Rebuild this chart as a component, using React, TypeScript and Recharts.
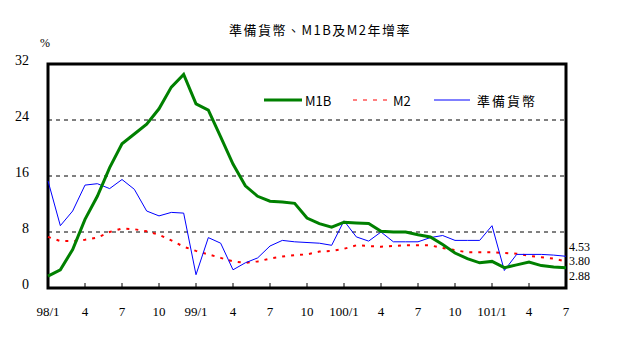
import {
  LineChart,
  Line,
  XAxis,
  YAxis,
  ReferenceLine,
  ReferenceArea,
} from "recharts";

const months = [
  "98/1", "98/2", "98/3", "98/4", "98/5", "98/6", "98/7", "98/8", "98/9", "98/10", "98/11", "98/12",
  "99/1", "99/2", "99/3", "99/4", "99/5", "99/6", "99/7", "99/8", "99/9", "99/10", "99/11", "99/12",
  "100/1", "100/2", "100/3", "100/4", "100/5", "100/6", "100/7", "100/8", "100/9", "100/10", "100/11", "100/12",
  "101/1", "101/2", "101/3", "101/4", "101/5", "101/6", "101/7",
];

const m1b = [
  1.7, 2.6, 5.5, 9.8, 13.1, 17.2, 20.6, 22.0, 23.4, 25.6, 28.7, 30.5,
  26.3, 25.4, 21.6, 17.7, 14.6, 13.1, 12.4, 12.3, 12.1, 10.0, 9.2, 8.7,
  9.4, 9.3, 9.2, 8.1, 8.0, 8.0, 7.6, 7.3, 6.2, 5.0, 4.2, 3.6,
  3.8, 2.9, 3.3, 3.7, 3.2, 3.0, 2.88,
];

const m2 = [
  7.3, 6.7, 6.7, 6.9, 7.2, 8.0, 8.5, 8.4, 8.1, 7.6, 6.8, 5.9,
  5.3, 4.8, 4.3, 3.8, 3.6, 3.8, 4.2, 4.5, 4.7, 4.8, 5.2, 5.3,
  5.6, 6.1, 6.0, 5.9, 6.0, 6.1, 6.1, 6.1, 5.7, 5.4, 5.1, 5.1,
  5.1, 5.0, 4.9, 4.6, 4.4, 4.2, 3.8,
];

const reserve = [
  15.3, 8.9, 11.0, 14.7, 14.9, 14.2, 15.5, 14.1, 11.0, 10.3, 10.8, 10.7,
  1.9, 7.2, 6.4, 2.6, 3.6, 4.3, 6.0, 6.8, 6.6, 6.5, 6.4, 6.1,
  9.6, 7.3, 6.7, 8.0, 6.6, 6.6, 6.6, 7.2, 7.5, 6.8, 6.8, 6.8,
  8.9, 2.5, 4.8, 4.8, 4.8, 4.7, 4.53,
];

const yTicks = [0, 8, 16, 24, 32];
const gridLines = [8, 16, 24];
const endLabels = { reserve: "4.53", m2: "3.80", m1b: "2.88" };

const data = months.map((m, i) => ({
  month: m,
  m1b: m1b[i],
  m2: m2[i],
  reserve: reserve[i],
}));

const NUM_FONT = "'Liberation Serif', serif";
const CJK_FONT = "'Noto Sans CJK TC', sans-serif";
const last = months.length - 1;

function monthLabel(m: string) {
  const [y, mo] = m.split("/");
  return mo === "1" ? `${y}/1` : mo;
}

function XTick(props: any) {
  const { x, y, payload } = props;
  return (
    <g>
      <line x1={x} x2={x} y1={y - 5} y2={y} stroke="#000" strokeWidth={1} />
      <text x={x} y={y + 28} textAnchor="middle" fontSize={13} fontFamily={NUM_FONT} fill="#000">
        {monthLabel(payload.value)}
      </text>
    </g>
  );
}

function YTick(props: any) {
  const { x, y, payload } = props;
  return (
    <text x={x} y={y - 4} textAnchor="end" dominantBaseline="central" fontSize={14} fontFamily={NUM_FONT} fill="#000">
      {payload.value}
    </text>
  );
}

// value labels beside the last month, nudged apart so they don't collide
function endLabel(text: string, dy: number) {
  return (p: any) => {
    if (p.index !== last) return null;
    return (
      <text x={p.x + 3} y={p.y + dy} dominantBaseline="central" fontSize={12} fontFamily={NUM_FONT} fill="#000">
        {text}
      </text>
    );
  };
}

function LegendBox() {
  return (
    <svg width={300} height={16} style={{ display: "block" }}>
      <line x1={4} x2={42} y1={8} y2={8} stroke="#008000" strokeWidth={3} />
      <text x={45} y={8} dominantBaseline="central" fontSize={13} fontFamily={CJK_FONT}>M1B</text>
      <line x1={93} x2={127} y1={8} y2={8} stroke="#ff0000" strokeWidth={1} strokeDasharray="4 6" />
      <text x={133} y={8} dominantBaseline="central" fontSize={13} fontFamily={CJK_FONT}>M2</text>
      <line x1={174} x2={210} y1={8} y2={8} stroke="#0000ff" strokeWidth={1} />
      <text x={217} y={8} dominantBaseline="central" fontSize={13} fontFamily={CJK_FONT} letterSpacing={2}>準備貨幣</text>
    </svg>
  );
}

export default function App() {
  return (
    <div style={{ position: "absolute", left: 0, top: 0, width: 620, height: 339, background: "#fff" }}>
      <div
        style={{
          position: "absolute",
          left: 0,
          top: 20,
          width: 640,
          textAlign: "center",
          fontFamily: CJK_FONT,
          fontSize: 13,
          letterSpacing: 1.5,
        }}
      >
        準備貨幣、M1B及M2年增率
      </div>
      <div style={{ position: "absolute", left: 40, top: 36, fontFamily: NUM_FONT, fontSize: 12 }}>%</div>
      <LineChart
        width={620}
        height={339}
        data={data}
        margin={{ top: 64, right: 54, bottom: 21, left: 0 }}
      >
        <XAxis
          dataKey="month"
          interval={2}
          axisLine={false}
          tickLine={false}
          tickSize={0}
          tickMargin={0}
          height={30}
          tick={<XTick />}
          padding={{ left: 0, right: 0 }}
        />
        <YAxis
          domain={[0, 32]}
          ticks={yTicks}
          width={48}
          axisLine={false}
          tickLine={false}
          tickSize={0}
          tickMargin={19}
          tick={<YTick />}
        />
        {gridLines.map((g) => (
          <ReferenceLine key={g} y={g} stroke="#000" strokeDasharray="4 4" strokeWidth={1} />
        ))}
        <Line
          dataKey="m2"
          name="M2"
          stroke="#ff0000"
          strokeWidth={2}
          strokeDasharray="3 6"
          dot={false}
          isAnimationActive={false}
          label={endLabel(endLabels.m2, 0)}
        />
        <Line
          dataKey="reserve"
          name="準備貨幣"
          stroke="#0000ff"
          strokeWidth={1}
          dot={false}
          isAnimationActive={false}
          label={endLabel(endLabels.reserve, -9)}
        />
        <Line
          dataKey="m1b"
          name="M1B"
          stroke="#008000"
          strokeWidth={3}
          dot={false}
          isAnimationActive={false}
          label={endLabel(endLabels.m1b, 8)}
        />
        <ReferenceArea
          x1={months[0]}
          x2={months[last]}
          y1={0}
          y2={32}
          fill="none"
          stroke="#000"
          strokeWidth={3}
          ifOverflow="visible"
        />
      </LineChart>
      <div style={{ position: "absolute", left: 260, top: 92 }}>
        <LegendBox />
      </div>
    </div>
  );
}
